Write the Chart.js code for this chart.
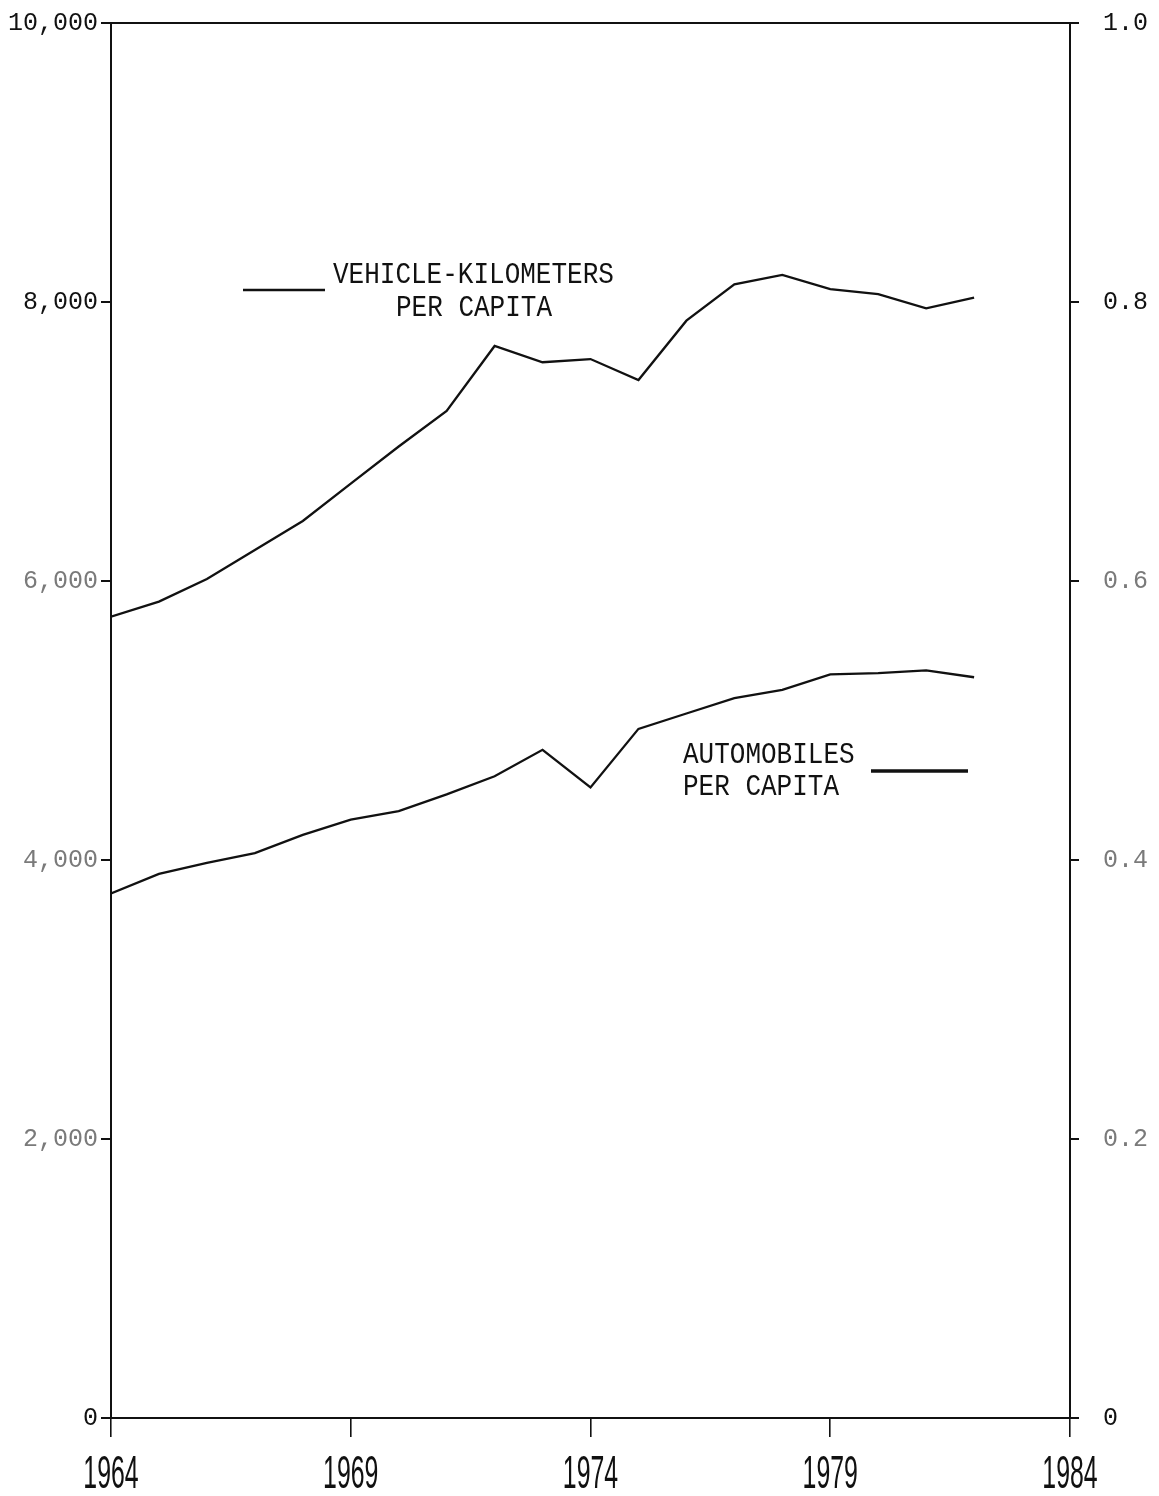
<!DOCTYPE html>
<html>
<head>
<meta charset="utf-8">
<title>Vehicle-kilometers and automobiles per capita, 1964-1982</title>
<script src="https://cdn.jsdelivr.net/npm/chart.js@4.4.1/dist/chart.umd.min.js"></script>
<style>
  html, body { margin: 0; padding: 0; background: #fff; }
  canvas { display: block; }
</style>
</head>
<body>
<canvas id="chart" width="1159" height="1496"></canvas>
<script>
// Annual series, 1964-1982
const years = [1964, 1965, 1966, 1967, 1968, 1969, 1970, 1971, 1972, 1973,
               1974, 1975, 1976, 1977, 1978, 1979, 1980, 1981, 1982];
const vehicleKmPerCapita = [5744, 5852, 6014, 6222, 6430, 6698, 6964, 7219, 7685, 7568,
                            7591, 7441, 7866, 8127, 8194, 8093, 8057, 7955, 8031];
const automobilesPerCapita = [0.376, 0.390, 0.398, 0.405, 0.418, 0.429, 0.435, 0.447, 0.460, 0.479,
                              0.452, 0.494, 0.505, 0.516, 0.522, 0.533, 0.534, 0.536, 0.531];

// Axis tick labels
const yearTickLabels = ['1964', '1969', '1974', '1979', '1984'];
const leftTickLabels = ['0', '2,000', '4,000', '6,000', '8,000', '10,000'];
const rightTickLabels = ['0', '0.2', '0.4', '0.6', '0.8', '1.0'];

// Series captions
const vehicleCaption = ['VEHICLE-KILOMETERS', 'PER CAPITA'];
const automobileCaption = ['AUTOMOBILES', 'PER CAPITA'];

const INK = '#111';
const LIGHT_INK = '#7a7a7a';
const MONO = '"Liberation Mono", "DejaVu Sans Mono", monospace';

function drawStretched(ctx, text, x, baseline, sx, sy, align) {
  ctx.save();
  ctx.translate(x, baseline);
  ctx.scale(sx, sy);
  ctx.textAlign = align || 'left';
  ctx.textBaseline = 'alphabetic';
  ctx.fillText(text, 0, 0);
  ctx.restore();
}

// Keep the plot frame fixed: no extra room reserved for overhanging labels
function noOverhang(scale) {
  scale.paddingTop = 0;
  scale.paddingBottom = 0;
  scale.paddingLeft = 0;
  scale.paddingRight = 0;
}

// Tall, narrow year labels under the x ticks
const yearLabels = {
  id: 'yearLabels',
  afterDraw(chart) {
    const ctx = chart.ctx;
    const xs = chart.scales.x;
    ctx.save();
    ctx.fillStyle = INK;
    ctx.font = '46px "Liberation Sans", Arial, sans-serif';
    xs.ticks.forEach((t, i) => {
      const px = xs.getPixelForValue(t.value);
      drawStretched(ctx, yearTickLabels[i], px, chart.chartArea.bottom + 70, 0.54, 1, 'center');
    });
    ctx.restore();
  }
};

// Captions with their key strokes, set inside the plot
const seriesCaptions = {
  id: 'seriesCaptions',
  afterDatasetsDraw(chart) {
    const ctx = chart.ctx;
    ctx.save();
    ctx.fillStyle = INK;
    ctx.strokeStyle = INK;
    ctx.lineCap = 'butt';
    ctx.font = '26px ' + MONO;

    // vehicle-kilometers
    ctx.lineWidth = 2.6;
    ctx.beginPath();
    ctx.moveTo(243, 290);
    ctx.lineTo(325, 290);
    ctx.stroke();
    drawStretched(ctx, vehicleCaption[0], 333, 283, 1, 1.15);
    drawStretched(ctx, vehicleCaption[1], 396, 316, 1, 1.15);

    // automobiles
    drawStretched(ctx, automobileCaption[0], 683, 763, 1, 1.15);
    drawStretched(ctx, automobileCaption[1], 683, 795, 1, 1.15);
    ctx.lineWidth = 3.6;
    ctx.beginPath();
    ctx.moveTo(871, 771);
    ctx.lineTo(968, 771);
    ctx.stroke();
    ctx.restore();
  }
};

const fadedLeft = [1, 2, 3];
const fadedRight = [1, 2, 3];

new Chart(document.getElementById('chart'), {
  type: 'line',
  data: {
    datasets: [
      {
        label: 'Vehicle-kilometers per capita',
        data: years.map((yr, i) => ({ x: yr, y: vehicleKmPerCapita[i] })),
        yAxisID: 'y',
        borderColor: INK,
        borderWidth: 2.3,
        pointRadius: 0,
        tension: 0,
        fill: false
      },
      {
        label: 'Automobiles per capita',
        data: years.map((yr, i) => ({ x: yr, y: automobilesPerCapita[i] })),
        yAxisID: 'y1',
        borderColor: INK,
        borderWidth: 2.3,
        pointRadius: 0,
        tension: 0,
        fill: false
      }
    ]
  },
  options: {
    responsive: false,
    animation: false,
    devicePixelRatio: 1,
    layout: { padding: 0 },
    plugins: {
      legend: { display: false },
      tooltip: { enabled: false },
      title: { display: false }
    },
    scales: {
      x: {
        type: 'linear',
        position: 'bottom',
        min: 1964,
        max: 1984,
        ticks: { display: false, stepSize: 5 },
        grid: {
          drawOnChartArea: false,
          drawTicks: true,
          tickLength: 19,
          color: INK,
          lineWidth: 1.6
        },
        border: { display: true, color: INK, width: 2 },
        afterFit(scale) { scale.height = 78; noOverhang(scale); }
      },
      xTop: {
        type: 'linear',
        position: 'top',
        min: 1964,
        max: 1984,
        ticks: { display: false },
        grid: { display: false, drawTicks: false },
        border: { display: true, color: INK, width: 2 },
        afterFit(scale) { scale.height = 23; noOverhang(scale); }
      },
      y: {
        type: 'linear',
        position: 'left',
        min: 0,
        max: 10000,
        ticks: {
          stepSize: 2000,
          padding: 3,
          font: { family: MONO, size: 25 },
          color: (c) => fadedLeft.includes(c.index) ? LIGHT_INK : INK,
          callback: (value, index) => leftTickLabels[index]
        },
        grid: {
          drawOnChartArea: false,
          drawTicks: true,
          tickLength: 10,
          color: INK,
          lineWidth: 2
        },
        border: { display: true, color: INK, width: 2 },
        afterFit(scale) { scale.width = 111; noOverhang(scale); }
      },
      y1: {
        type: 'linear',
        position: 'right',
        min: 0,
        max: 1.0,
        ticks: {
          stepSize: 0.2,
          padding: 24,
          font: { family: MONO, size: 25 },
          color: (c) => fadedRight.includes(c.index) ? LIGHT_INK : INK,
          callback: (value, index) => rightTickLabels[index]
        },
        grid: {
          drawOnChartArea: false,
          drawTicks: true,
          tickLength: 9,
          color: INK,
          lineWidth: 2
        },
        border: { display: true, color: INK, width: 2 },
        afterFit(scale) { scale.width = 89; noOverhang(scale); }
      }
    }
  },
  plugins: [seriesCaptions, yearLabels]
});
</script>
</body>
</html>
